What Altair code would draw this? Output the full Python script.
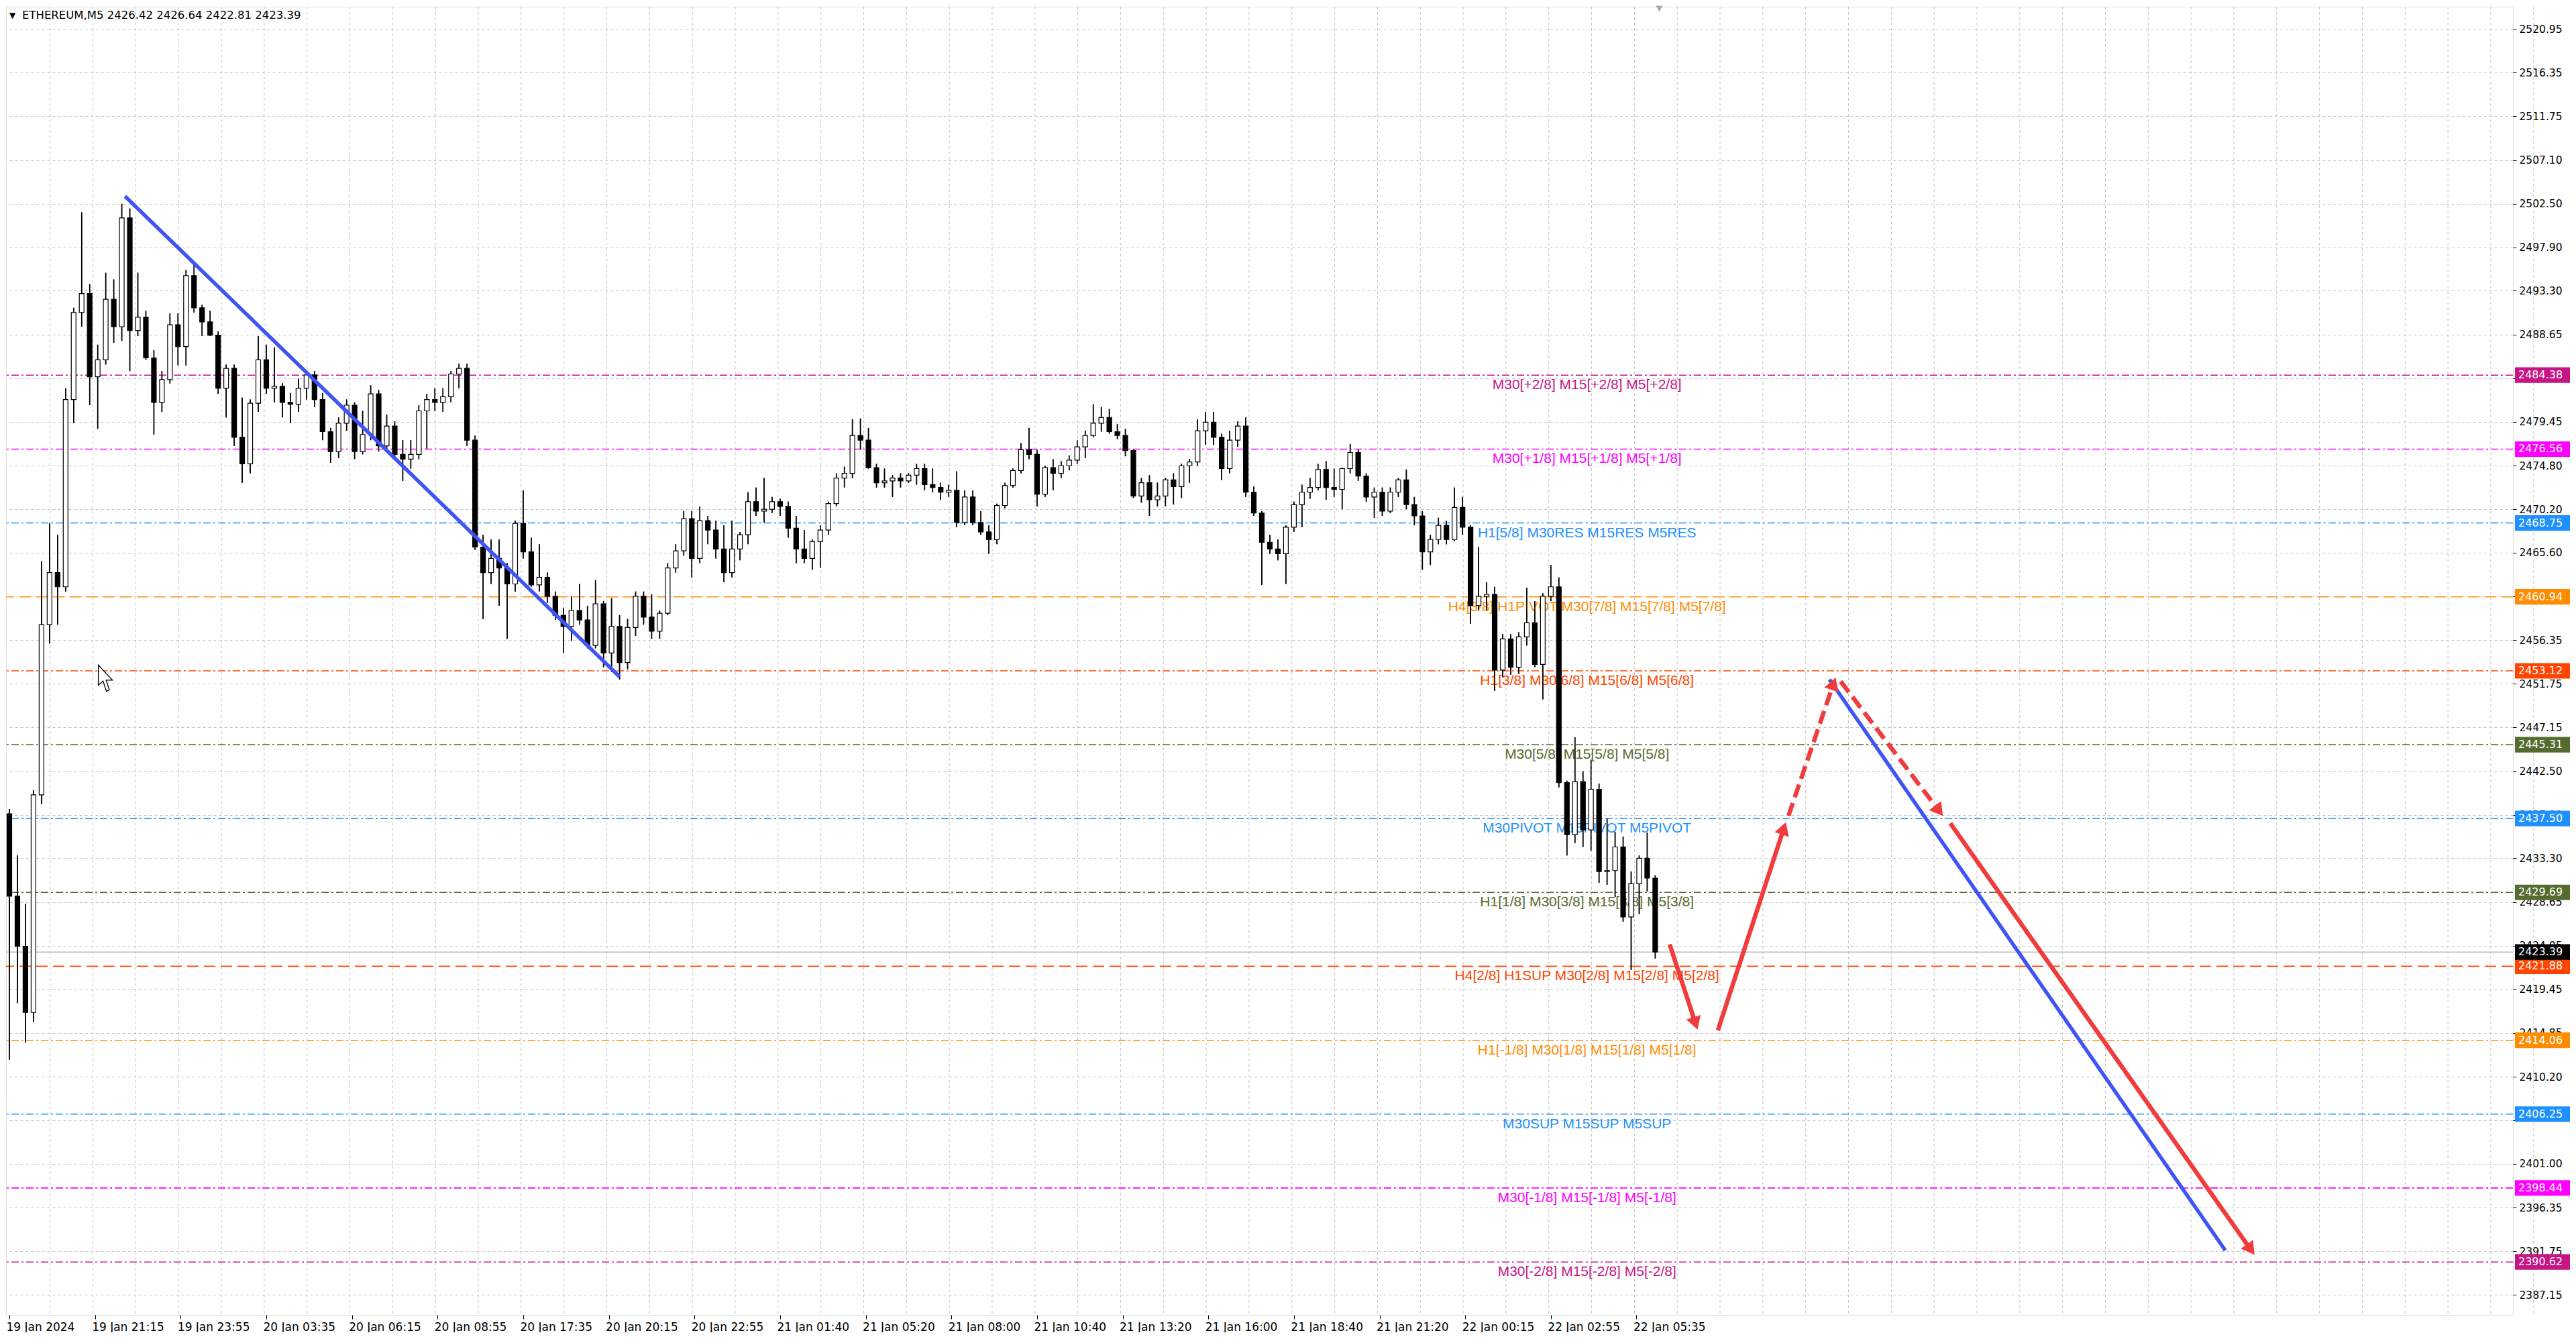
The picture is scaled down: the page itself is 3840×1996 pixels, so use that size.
import math
import altair as alt
import pandas as pd

# ---------------- data (15-minute candles) ----------------
opens = [
    2438.0, 2429.3, 2424.0, 2417.0, 2440.0, 2458.0, 2463.5, 2462.0, 2481.8, 2491.0,
    2493.0, 2484.2, 2486.0, 2492.4, 2489.5, 2501.0, 2489.1, 2490.5, 2486.2, 2481.5,
    2483.9, 2489.7, 2487.4, 2494.9, 2491.5, 2490.0, 2488.6, 2483.0, 2485.1, 2477.8,
    2475.0, 2481.4, 2486.0, 2483.0, 2483.2, 2481.5, 2481.3, 2483.0, 2484.4, 2481.8,
    2478.4, 2476.3, 2479.3, 2481.2, 2476.3, 2478.1, 2482.4, 2476.9, 2479.0, 2476.0,
    2475.5, 2476.0, 2480.6, 2481.8, 2481.5, 2482.1, 2484.5, 2485.1, 2477.5, 2466.2,
    2463.5, 2465.0, 2464.0, 2462.3, 2468.7, 2465.7, 2462.2, 2463.0, 2461.0, 2459.0,
    2457.8, 2459.5, 2458.5, 2455.8, 2460.2, 2455.0, 2457.8, 2454.0, 2457.7, 2461.0,
    2458.8, 2457.3, 2459.2, 2464.0, 2465.8, 2469.2, 2465.0, 2469.0, 2468.0, 2466.0,
    2463.5, 2466.0, 2467.5, 2471.0, 2470.0, 2470.2, 2471.0, 2470.5, 2468.2, 2466.0,
    2465.0, 2466.8, 2468.0, 2470.8, 2473.5, 2474.0, 2478.0, 2477.5, 2474.6, 2473.0,
    2473.2, 2473.5, 2473.2, 2473.8, 2474.5, 2472.8, 2472.5, 2472.0, 2472.2, 2468.8,
    2471.5, 2468.8, 2467.8, 2467.0, 2470.6, 2472.7, 2474.3, 2476.5, 2476.0, 2471.8,
    2474.6, 2474.0, 2474.8, 2475.4, 2476.8, 2478.0, 2479.3, 2479.9, 2478.4, 2478.0,
    2476.4, 2471.6, 2473.0, 2471.2, 2471.6, 2473.3, 2472.6, 2474.8, 2475.2, 2478.5,
    2479.4, 2477.8, 2474.5, 2477.5, 2479.0, 2472.0, 2469.8, 2466.7, 2466.0, 2465.5,
    2468.3, 2470.7, 2472.0, 2472.5, 2474.4, 2472.5, 2472.3, 2474.5, 2476.2, 2473.7,
    2471.5, 2472.0, 2470.0, 2472.0, 2473.3, 2470.7, 2469.5, 2465.7, 2467.0, 2468.5,
    2467.0, 2470.4, 2468.3, 2460.0, 2461.0, 2461.2, 2453.2, 2456.5, 2453.5, 2456.7,
    2458.2, 2453.8, 2461.0, 2462.0, 2441.3, 2435.8, 2441.4, 2436.3, 2440.6, 2431.9,
    2432.0, 2434.5, 2427.1, 2430.6, 2433.3, 2431.2,
]
highs = [
    2438.5, 2433.6, 2428.5, 2440.5, 2464.7, 2468.7, 2467.5, 2483.0, 2491.5, 2501.6,
    2494.0, 2487.6, 2495.2, 2494.5, 2502.5, 2502.0, 2495.2, 2491.2, 2487.0, 2484.8,
    2490.9, 2490.9, 2495.5, 2496.4, 2491.8, 2491.2, 2489.0, 2485.5, 2485.5, 2482.0,
    2481.8, 2488.5, 2487.6, 2487.3, 2483.5, 2482.5, 2484.0, 2484.8, 2484.8, 2482.5,
    2478.8, 2479.9, 2481.8, 2481.5, 2480.6, 2483.3, 2482.8, 2480.2, 2479.5, 2477.5,
    2477.5, 2481.2, 2482.4, 2483.0, 2483.0, 2484.8, 2485.6, 2485.6, 2478.0, 2467.5,
    2467.0, 2467.0, 2464.5, 2469.0, 2472.2, 2467.2, 2466.5, 2463.5, 2461.5, 2459.8,
    2461.0, 2462.3, 2460.0, 2462.7, 2460.5, 2460.8, 2459.0, 2458.6, 2461.5, 2461.5,
    2461.2, 2459.5, 2464.5, 2466.5, 2470.0, 2470.0, 2470.5, 2469.5, 2469.0, 2468.5,
    2469.0, 2467.8, 2472.0, 2472.5, 2473.5, 2471.5, 2471.3, 2471.0, 2469.5, 2468.0,
    2467.0, 2468.5, 2471.0, 2474.0, 2474.7, 2479.7, 2479.8, 2478.8, 2475.0, 2474.5,
    2473.8, 2474.0, 2474.0, 2475.0, 2475.0, 2474.5, 2473.0, 2472.8, 2474.2, 2472.2,
    2472.2, 2470.0, 2468.5, 2470.8, 2473.0, 2474.5, 2477.2, 2478.8, 2476.5, 2474.8,
    2475.5, 2475.3, 2475.9, 2477.5, 2478.5, 2481.3, 2481.0, 2480.8, 2479.2, 2478.7,
    2476.5, 2473.5, 2473.8, 2473.0, 2473.5, 2474.0, 2475.0, 2475.5, 2479.7, 2480.5,
    2480.5, 2478.2, 2478.5, 2479.5, 2479.9, 2472.6, 2470.0, 2467.5, 2467.0, 2468.5,
    2471.0, 2472.8, 2473.5, 2475.0, 2475.3, 2474.5, 2474.6, 2477.1, 2476.5, 2474.0,
    2472.5, 2472.5, 2472.5, 2473.5, 2474.4, 2471.5, 2470.0, 2467.5, 2469.3, 2469.0,
    2472.5, 2471.5, 2468.5, 2466.2, 2462.5, 2462.0, 2457.0, 2457.0, 2457.2, 2461.9,
    2460.5, 2461.3, 2464.3, 2463.0, 2441.5, 2446.1, 2442.5, 2443.7, 2441.2, 2437.5,
    2436.1, 2435.6, 2431.9, 2433.6, 2436.0, 2431.5,
]
lows = [
    2412.0, 2418.0, 2413.8, 2416.0, 2439.0, 2456.0, 2458.0, 2461.5, 2479.3, 2489.5,
    2481.2, 2478.7, 2485.5, 2487.8, 2488.0, 2484.8, 2488.5, 2486.0, 2478.1, 2480.5,
    2483.5, 2485.4, 2485.4, 2491.0, 2488.5, 2488.5, 2482.4, 2479.9, 2476.9, 2473.0,
    2474.0, 2480.5, 2482.4, 2481.5, 2479.9, 2479.3, 2480.5, 2481.8, 2481.0, 2477.5,
    2475.1, 2475.6, 2478.5, 2475.5, 2476.0, 2477.5, 2476.3, 2476.5, 2475.7, 2473.2,
    2474.5, 2475.5, 2476.6, 2480.6, 2480.5, 2481.5, 2483.0, 2476.9, 2465.9, 2458.6,
    2462.3, 2460.0, 2456.5, 2461.5, 2465.0, 2462.0, 2461.5, 2460.3, 2458.5, 2455.0,
    2456.3, 2458.0, 2455.5, 2455.5, 2453.5, 2453.0, 2452.2, 2453.3, 2456.8, 2458.0,
    2456.5, 2456.5, 2459.0, 2463.5, 2465.3, 2463.0, 2464.5, 2466.5, 2465.0, 2462.5,
    2463.0, 2464.8, 2466.5, 2469.5, 2468.8, 2469.8, 2469.5, 2467.2, 2464.5, 2464.5,
    2463.8, 2464.0, 2467.5, 2470.5, 2472.5, 2473.5, 2476.5, 2474.5, 2472.5, 2472.5,
    2471.5, 2472.5, 2473.0, 2472.8, 2472.2, 2472.0, 2471.2, 2471.5, 2468.3, 2468.5,
    2468.5, 2467.5, 2465.5, 2466.5, 2470.3, 2472.5, 2474.0, 2475.5, 2470.5, 2471.5,
    2472.2, 2473.5, 2474.3, 2475.0, 2475.6, 2477.8, 2478.4, 2478.2, 2477.6, 2475.8,
    2471.4, 2470.9, 2469.5, 2470.5, 2470.5, 2470.7, 2471.4, 2473.0, 2474.8, 2477.0,
    2477.0, 2473.3, 2474.0, 2476.8, 2471.5, 2469.5, 2462.2, 2465.5, 2464.8, 2462.3,
    2467.8, 2468.3, 2471.3, 2472.2, 2471.2, 2471.5, 2470.2, 2474.0, 2473.2, 2471.0,
    2469.3, 2469.5, 2469.8, 2471.5, 2470.2, 2468.5, 2463.8, 2464.3, 2466.5, 2466.5,
    2466.8, 2467.5, 2458.1, 2459.5, 2459.5, 2451.0, 2452.5, 2452.7, 2452.8, 2455.8,
    2453.5, 2450.1, 2460.5, 2440.8, 2433.6, 2434.9, 2434.5, 2434.1, 2430.7, 2430.5,
    2429.2, 2426.6, 2421.5, 2427.4, 2429.8, 2422.7,
]
closes = [
    2429.3, 2424.0, 2417.0, 2440.0, 2458.0, 2463.5, 2462.0, 2481.8, 2491.0, 2493.0,
    2484.2, 2486.0, 2492.4, 2489.5, 2501.0, 2489.1, 2490.5, 2486.2, 2481.5, 2483.9,
    2489.7, 2487.4, 2494.9, 2491.5, 2490.0, 2488.6, 2483.0, 2485.1, 2477.8, 2475.0,
    2481.4, 2486.0, 2483.0, 2483.2, 2481.5, 2481.3, 2483.0, 2484.4, 2481.8, 2478.4,
    2476.3, 2479.3, 2481.2, 2476.3, 2478.1, 2482.4, 2476.9, 2479.0, 2476.0, 2475.5,
    2476.0, 2480.6, 2481.8, 2481.5, 2482.1, 2484.5, 2485.1, 2477.5, 2466.2, 2463.5,
    2465.0, 2464.0, 2462.3, 2468.7, 2465.7, 2462.2, 2463.0, 2461.0, 2459.0, 2457.8,
    2459.5, 2458.5, 2455.8, 2460.2, 2455.0, 2457.8, 2454.0, 2457.7, 2461.0, 2458.8,
    2457.3, 2459.2, 2464.0, 2465.8, 2469.2, 2465.0, 2469.0, 2468.0, 2466.0, 2463.5,
    2466.0, 2467.5, 2471.0, 2470.0, 2470.2, 2471.0, 2470.5, 2468.2, 2466.0, 2465.0,
    2466.8, 2468.0, 2470.8, 2473.5, 2474.0, 2478.0, 2477.5, 2474.6, 2473.0, 2473.2,
    2473.5, 2473.2, 2473.8, 2474.5, 2472.8, 2472.5, 2472.0, 2472.2, 2468.8, 2471.5,
    2468.8, 2467.8, 2467.0, 2470.6, 2472.7, 2474.3, 2476.5, 2476.0, 2471.8, 2474.6,
    2474.0, 2474.8, 2475.4, 2476.8, 2478.0, 2479.3, 2479.9, 2478.4, 2478.0, 2476.4,
    2471.6, 2473.0, 2471.2, 2471.6, 2473.3, 2472.6, 2474.8, 2475.2, 2478.5, 2479.4,
    2477.8, 2474.5, 2477.5, 2479.0, 2472.0, 2469.8, 2466.7, 2466.0, 2465.5, 2468.3,
    2470.7, 2472.0, 2472.5, 2474.4, 2472.5, 2472.3, 2474.5, 2476.2, 2473.7, 2471.5,
    2472.0, 2470.0, 2472.0, 2473.3, 2470.7, 2469.5, 2465.7, 2467.0, 2468.5, 2467.0,
    2470.4, 2468.3, 2460.0, 2461.0, 2461.2, 2453.2, 2456.5, 2453.5, 2456.7, 2458.2,
    2453.8, 2461.0, 2462.0, 2441.3, 2435.8, 2441.4, 2436.3, 2440.6, 2431.9, 2432.0,
    2434.5, 2427.1, 2430.6, 2433.3, 2431.2, 2423.39,
]

time_labels = [
    "19 Jan 2024", "19 Jan 21:15", "19 Jan 23:55", "20 Jan 03:35", "20 Jan 06:15",
    "20 Jan 08:55", "20 Jan 17:35", "20 Jan 20:15", "20 Jan 22:55", "21 Jan 01:40",
    "21 Jan 05:20", "21 Jan 08:00", "21 Jan 10:40", "21 Jan 13:20", "21 Jan 16:00",
    "21 Jan 18:40", "21 Jan 21:20", "22 Jan 00:15", "22 Jan 02:55", "22 Jan 05:35",
]
price_ticks = [
    2520.95, 2516.35, 2511.75, 2507.10, 2502.50, 2497.90, 2493.30, 2488.65, 2484.05,
    2479.45, 2474.80, 2470.20, 2465.60, 2461.00, 2456.35, 2451.75, 2447.15, 2442.50,
    2437.90, 2433.30, 2428.65, 2424.05, 2419.45, 2414.85, 2410.20, 2405.60, 2401.00,
    2396.35, 2391.75, 2387.15,
]
hidden_ticks = [2484.05, 2461.00, 2405.60]  # fully covered by the level price boxes

level_prices = [2484.38, 2476.56, 2468.75, 2460.94, 2453.12, 2445.31, 2437.50,
                2429.69, 2421.88, 2414.06, 2406.25, 2398.44, 2390.62]
level_texts = [
    "M30[+2/8] M15[+2/8] M5[+2/8]",
    "M30[+1/8] M15[+1/8] M5[+1/8]",
    "H1[5/8] M30RES M15RES M5RES",
    "H4[3/8] H1PIVOT M30[7/8] M15[7/8] M5[7/8]",
    "H1[3/8] M30[6/8] M15[6/8] M5[6/8]",
    "M30[5/8] M15[5/8] M5[5/8]",
    "M30PIVOT M15PIVOT M5PIVOT",
    "H1[1/8] M30[3/8] M15[3/8] M5[3/8]",
    "H4[2/8] H1SUP M30[2/8] M15[2/8] M5[2/8]",
    "H1[-1/8] M30[1/8] M15[1/8] M5[1/8]",
    "M30SUP M15SUP M5SUP",
    "M30[-1/8] M15[-1/8] M5[-1/8]",
    "M30[-2/8] M15[-2/8] M5[-2/8]",
]
level_colors = ["#C71585", "#FF00FF", "#1E90FF", "#FF8C00", "#FF4500", "#556B2F", "#1E90FF",
                "#556B2F", "#FF4500", "#FF8C00", "#1E90FF", "#FF00FF", "#C71585"]
level_styles = ["dashdot", "dashdot", "dashdot", "dash", "dashdot", "dashdot", "dashdot",
                "dashdot", "dash", "dashdot", "dashdot", "dashdot", "dashdot"]

# drawn objects: (bar index, price) start/end
blue_lines = [
    (14.4, 2503.3, 76.0, 2452.5),
    (226.7, 2452.2, 276.0, 2391.85),
]
red_arrows = [  # i1, p1, i2 (tip), p2 (tip), style
    (206.8, 2424.2, 210.3, 2415.1, "solid"),
    (212.8, 2415.1, 221.3, 2437.2, "solid"),
    (221.6, 2437.8, 227.5, 2452.5, "dash"),
    (228.1, 2452.0, 240.9, 2437.7, "dash"),
    (241.75, 2437.0, 279.7, 2391.3, "solid"),
]
cursor_at = (12.25, 2452.3)  # mouse pointer left on the screenshot
last_ohlc = [2426.42, 2426.64, 2422.81, 2423.39]
symbol = "ETHEREUM,M5"

# ---------------- layout ----------------
W, H = 3737, 1950
X0 = 0.0
X1 = X0 + W / 12.0
Y0, Y1 = 2385.03, 2523.33
PXB = W / (X1 - X0)
PXP = H / (Y1 - Y0)
LABEL_X = 196.5
SPAN = 32 / 3  # 32 M5 bars between time labels
BOX_HALF = 0.82
HEAD_LEN = 22

xs = alt.Scale(domain=[X0, X1], nice=False, zero=False)
ys = alt.Scale(domain=[Y0, Y1], nice=False, zero=False)

tick_vals = [SPAN * k for k in range(len(time_labels))]
labels_js = "[" + ",".join("'%s'" % t for t in time_labels) + "]"
hidden_js = "[" + ",".join("%.2f" % v for v in hidden_ticks) + "]"
x_axis = alt.Axis(
    values=tick_vals, labelExpr=labels_js + "[round(datum.value/%f)]" % SPAN,
    grid=False, orient="bottom", labelAlign="left", labelFlush=False, labelOverlap=False,
    labelFont="DejaVu Sans", labelFontSize=17, labelColor="black", labelPadding=4,
    labelOffset=-5, tickColor="black", tickSize=6, domain=False, title=None,
)
y_axis = alt.Axis(
    orient="right", values=price_ticks,
    labelExpr="indexof(%s, round(datum.value*100)/100) >= 0 ? '' : format(datum.value, '.2f')" % hidden_js,
    grid=True, gridDash=[4, 4],
    gridColor="#C3C3C3", labelFont="DejaVu Sans", labelFontSize=15.5, labelColor="black",
    tickSize=5, tickColor="black", domain=False, title=None, labelPadding=4,
    labelOverlap=False,
)


def X(field):
    return alt.X(field, scale=xs, axis=x_axis)


def Y(field):
    return alt.Y(field, scale=ys, axis=y_axis)


n = len(closes)
candles = pd.DataFrame({"i": list(range(n)), "o": opens, "h": highs, "l": lows, "c": closes})
candles["fill"] = ["white" if c >= o else "black" for o, c in zip(opens, closes)]

grid_df = pd.DataFrame({"gx": [SPAN / 2 * k - 0.26 for k in range(1, 60)]})
vgrid = alt.Chart(grid_df).mark_rule(color="#C3C3C3", strokeDash=[4, 4], strokeWidth=1).encode(
    x=X("gx:Q"))

levels = pd.DataFrame({"price": level_prices, "text": level_texts,
                       "color": level_colors, "style": level_styles})
lvl_dashdot = alt.Chart(levels).transform_filter("datum.style == 'dashdot'").mark_rule(
    strokeWidth=1.6, strokeDash=[11, 4, 3, 4]).encode(
    y=Y("price:Q"), color=alt.Color("color:N", scale=None))
lvl_dash = alt.Chart(levels).transform_filter("datum.style == 'dash'").mark_rule(
    strokeWidth=1.6, strokeDash=[17, 8]).encode(
    y=Y("price:Q"), color=alt.Color("color:N", scale=None))
level_text = alt.Chart(levels).transform_calculate(lx=str(LABEL_X)).mark_text(
    align="center", baseline="top", dy=4, font="Liberation Sans", fontSize=21).encode(
    x=X("lx:Q"), y=Y("price:Q"), text="text:N", color=alt.Color("color:N", scale=None))

cur = pd.DataFrame({"price": [closes[-1]]})
cur_line = alt.Chart(cur).mark_rule(color="#BDBDBD", strokeWidth=1.5).encode(y=Y("price:Q"))

wicks = alt.Chart(candles).mark_rule(color="black", strokeWidth=1.5).encode(
    x=X("i:Q"), y=Y("l:Q"), y2="h:Q")
bodies = alt.Chart(candles).mark_bar(size=7, stroke="black", strokeWidth=1.2).encode(
    x=X("i:Q"), y=Y("o:Q"), y2="c:Q", fill=alt.Fill("fill:N", scale=None))

# chart-shift marker at the top, right after the last bar
shift_df = pd.DataFrame({"i": [n - 0.5]})
shift_mark = alt.Chart(shift_df).mark_point(shape="triangle-down", filled=True, size=110,
                                            color="#A8A8A8", opacity=1).encode(
    x=X("i:Q"), y=alt.value(3))

# mouse pointer
CURSOR_PATH = "M-0.7,-1L-0.7,0.5L-0.35,0.18L-0.1,0.95L0.12,0.85L-0.12,0.12L0.35,0.12Z"
cursor_df = pd.DataFrame({"i": [cursor_at[0]], "p": [cursor_at[1]]})
cursor_mark = alt.Chart(cursor_df).mark_point(shape=CURSOR_PATH, filled=True, fill="white",
                                              stroke="black", strokeWidth=1.3, size=1600,
                                              opacity=1).encode(x=X("i:Q"), y=Y("p:Q"))

# segments + arrowheads
seg_rows = []
head_rows = []
for (i1, p1, i2, p2) in blue_lines:
    seg_rows.append({"i1": i1, "p1": p1, "i2": i2, "p2": p2, "kind": "blue"})
for (i1, p1, i2, p2, st) in red_arrows:
    dx = (i2 - i1) * PXB
    dy = (p2 - p1) * PXP
    L = math.hypot(dx, dy)
    ux, uy = dx / L, dy / L
    ang = math.degrees(math.atan2(dx, dy)) % 360
    ci = i2 - (HEAD_LEN / 2) * ux / PXB
    cp = p2 - (HEAD_LEN / 2) * uy / PXP
    seg_rows.append({"i1": i1, "p1": p1, "i2": ci, "p2": cp, "kind": "red_" + st})
    head_rows.append({"i": ci, "p": cp, "ang": ang})
segs = pd.DataFrame(seg_rows)
heads = pd.DataFrame(head_rows)


def seg_chart(kind, color, width, dash=None):
    kw = dict(color=color, strokeWidth=width, strokeCap="butt")
    if dash:
        kw["strokeDash"] = dash
    return alt.Chart(segs).transform_filter("datum.kind == '%s'" % kind).mark_rule(**kw).encode(
        x=X("i1:Q"), x2="i2:Q", y=Y("p1:Q"), y2="p2:Q")


blue_layer = seg_chart("blue", "#3F54F4", 5.5)
red_solid = seg_chart("red_solid", "#F03C3C", 6.5)
red_dash = seg_chart("red_dash", "#F03C3C", 6.5, [20, 9])
head_layer = alt.Chart(heads).mark_point(shape="triangle-up", filled=True, size=500,
                                         color="#F03C3C", opacity=1).encode(
    x=X("i:Q"), y=Y("p:Q"), angle=alt.Angle("ang:Q", scale=None))

# price boxes on the right axis
boxes = pd.DataFrame({"price": level_prices + [closes[-1]],
                      "color": level_colors + ["#000000"]})
box_rect = alt.Chart(boxes).transform_calculate(
    lo="datum.price - %f" % BOX_HALF, hi="datum.price + %f" % BOX_HALF
).mark_rect().encode(
    x=alt.value(W + 3), x2=alt.value(W + 85),
    y=Y("lo:Q"), y2="hi:Q",
    color=alt.Color("color:N", scale=None),
)
box_text = alt.Chart(boxes).mark_text(align="left", baseline="middle", font="DejaVu Sans",
                                      fontSize=16, color="white").encode(
    x=alt.value(W + 8), y=Y("price:Q"), text=alt.Text("price:Q", format=".2f"))

header = "%s  %s" % (symbol, " ".join("%.2f" % v for v in last_ohlc))
head_df = pd.DataFrame({"t": [header]})
header_text = alt.Chart(head_df).mark_text(align="left", baseline="top", font="DejaVu Sans",
                                           fontSize=16.5, color="black").encode(
    x=alt.value(24), y=alt.value(5), text="t:N")
tri_text = alt.Chart(pd.DataFrame({"t": ["\u25bc"]})).mark_text(
    align="left", baseline="top", font="DejaVu Sans", fontSize=12, color="black").encode(
    x=alt.value(5), y=alt.value(8), text="t:N")

chart = alt.layer(
    wicks, vgrid, lvl_dashdot, lvl_dash, cur_line, level_text, wicks, bodies,
    blue_layer, red_solid, red_dash, head_layer, box_rect, box_text, header_text, tri_text,
    shift_mark, cursor_mark,
).properties(
    width=W, height=H, padding=0,
).configure_view(stroke="black", strokeWidth=1.5).configure(background="white")

chart.save("out.html", embed_options={"renderer": "svg", "actions": False})
